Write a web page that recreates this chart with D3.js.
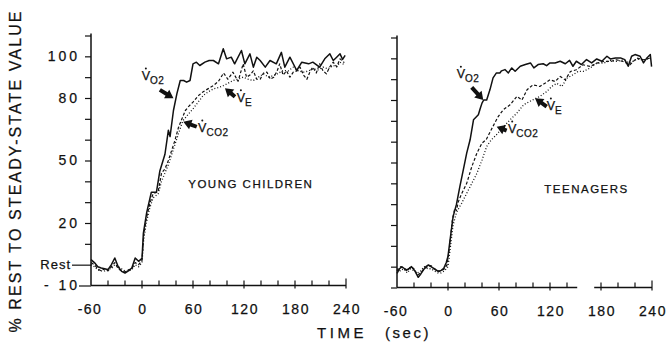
<!DOCTYPE html>
<html>
<head>
<meta charset="utf-8">
<script src="https://cdn.jsdelivr.net/npm/d3@7"></script>
<style>
  body { margin: 0; background: #fff; }
  svg text { font-family: "Liberation Sans", Arial, sans-serif; fill: #111; stroke: #111; stroke-width: 0.25px; }
</style>
</head>
<body>
<div id="chart"></div>
<script>
// [time (s), % of rest-to-steady-state value]
const childrenVO2 = [[-60,2.4],[-56,1],[-52,-1],[-48,-1.6],[-44,-2],[-40,-2.4],[-36,0],[-32,3.2],[-28,-1],[-24,-3.2],[-20,-4],[-16,-3],[-12,-1.6],[-8,3.2],[-4,1.6],[0,3],
  [1.6,15],[5.5,25],[11,34.8],[17,34.8],[21,45],[27,53],[31,64.5],[33,61.5],[37,74],[41,82],[45,88.4],[49,88.4],[52.5,87.6],[56.5,88.4],[60,96.4],
  [64,97.2],[68,95.6],[74,97.2],[79,98],[84,98],[90,96.4],[95.6,103.6],[99.5,98.8],[105,99.6],[109,96.4],[117,102.8],[121,96.4],[127,101.2],[131,94.8],
  [135,99.6],[139,98],[145,94.8],[150.6,98],[158,96.4],[164,101.9],[168,94.8],[174,99.6],[182,93.2],[188,97.2],[196,96.4],[201,97.2],[209,94.8],
  [215,98.8],[221,101.2],[225,98],[229,99.6],[233,101.2],[236,98.5],[239,100.5]];
const childrenVCO2 = [[-60,1],[-56,0],[-52,-2],[-48,-3],[-44,-2],[-40,-3],[-36,-1],[-32,1],[-28,-2],[-24,-3],[-20,-3.5],[-16,-2.5],[-12,-2],[-8,1],[-4,0],[0,2],
  [2,14],[5,22],[9,29],[13,34],[19,35],[23,44],[27,46],[31,50],[35,55],[39,60],[43,66],[47,70],[51,74],[55,76],[60,78],[66,81],[72,83],[78,84.5],
  [84,86],[90,88],[96,92],[101,89],[107,92.4],[113,88],[119,96.4],[123,90],[127,91],[131,93],[135,89],[139,89],[143,92],[147,92.4],[151,89],[155,90],
  [159,93],[162,96.4],[166,91],[170,93],[174,90],[178,92.4],[182,93],[186,94.8],[190,91],[194,89],[198,93],[201,94.8],[205,92],[209,96.4],[213,93],
  [217,91.6],[221,95],[225,97.2],[229,95],[233,98.8],[238,97]];
const childrenVE = [[-60,0],[-56,-1],[-52,-2.5],[-48,-3],[-44,-3],[-40,-2],[-36,-2],[-32,0],[-28,-1],[-24,-2],[-20,-3],[-16,-3],[-12,-2.5],[-8,0],[-4,-1],[0,1],
  [2,12],[5,20],[9,27],[13,32],[19,34],[23,40],[27,44],[31,48],[35,53],[39,58],[43,63],[48,69],[54,72],[60,74.8],[66,78],[72,81.2],[78,83],[84,84.4],
  [90,85],[96,86],[101,87],[107,88.4],[113,89],[119,90],[125,89],[131,88.4],[137,90],[143,91.6],[149,90],[155,90.8],[161,92],[166,93.2],[172,93],
  [178,94.8],[184,93],[190,92.4],[196,93],[201,94],[207,93.5],[213,94.8],[219,94],[225,95.6],[229,95],[233,97.2],[238,96]];

const teenVO2 = [[-60,-3.2],[-57,-1],[-54.5,0],[-51,-1],[-48.6,-1.6],[-46,-1],[-43,0],[-39,-2],[-35,-5.1],[-32,-3.5],[-29,-1.6],[-26,0],[-23,0.8],[-20,0],
  [-17,-0.8],[-14,-1.6],[-11,-2.4],[-8,-1.8],[-5,-0.8],[-2,2],[0,5],[2.4,12.8],[6,24],[10,30],[14,38.5],[18,46.5],[22,54.5],[26,60.9],[30,70.5],
  [35.7,72.9],[38,76],[40,78.5],[42,80],[45.5,80],[49.4,85],[53,90.6],[57,93],[61,93],[63,94],[67,94.6],[71,93],[75,95.4],[79,93.8],[85,96.2],
  [91,97],[97,97.8],[101,95.4],[106,97],[112,97.4],[116,96.5],[120,97.8],[126,97.8],[132,98.6],[138,97.4],[143,99],[147,96.2],[151,98.6],[157,97],
  [163,99.4],[169,97.8],[175,99.7],[181,98.6],[187,101],[191,99.7],[197,100.2],[203,100.2],[208,99.4],[212,96.2],[216,101],[220,101.8],[226,101],
  [230,97.8],[234,100.2],[238,101.8],[239.5,96]];
const teenVCO2 = [[-60,-2],[-56,0],[-52,-1],[-48,-2],[-44,0],[-40,-1],[-36,-4],[-32,-3],[-28,-1],[-24,0],[-20,0.5],[-16,-1],[-12,-2],[-8,-2],[-4,-1],[-1,1],
  [2,10],[5,22],[8,28],[10,27],[12,31],[16,35],[22,40],[28,48],[34,54.5],[40,59.3],[45,61],[51,65.8],[55,69],[59,72],[65,75.3],[73,77.7],[81,81.7],
  [87,80],[93,84.9],[100,87.3],[108,86.5],[114,88],[120,89.7],[126,88.9],[132,91.3],[138,89.7],[144,93.7],[151,94.5],[159,96.9],[167,96.1],
  [175,97.7],[183,98.5],[191,98.5],[198,99.3],[206,98.5],[214,96.9],[222,100.1],[230,99.3],[238,100.1]];
const teenVE = [[-60,-1],[-56,-2],[-52,-1],[-48,-3],[-44,-1],[-40,-2],[-36,-3],[-32,-2],[-28,0],[-24,-1],[-20,-1],[-16,-2],[-12,-3],[-8,-3],[-4,-2],[0,0],
  [3,10],[6,20],[10,26],[14,29],[16,30.4],[22,35.2],[28,40],[34,44.8],[40,51.2],[45.5,57.7],[51,60.9],[57,63.3],[65,67],[73,70.5],[81,73.7],
  [89,77.7],[96,79.3],[102,80.5],[108,81.7],[116,84],[122,86.5],[128,88],[134,86.5],[140,90.5],[147,92.1],[153,93.7],[159,93.7],[167,95.3],
  [175,97.7],[183,97.7],[191,99],[198,98.5],[206,99.3],[214,97.7],[222,99.6],[230,99.3],[238,100]];

const xTickLabels = [-60, 0, 60, 120, 180, 240];
const yTickValues = [100, 80, 50, 20, 0, -10];
const yTickLabels = ['100', '80', '50', '20', 'Rest', '- 10'];

const W = 668, H = 346;
const svg = d3.select('#chart').append('svg')
    .attr('width', W)
    .attr('height', H);

const styles = {
    vo2: {width: 1.5, dash: null},
    vco2: {width: 1.2, dash: '3,2'},
    ve: {width: 1.3, dash: '1,2'}
};

const panels = [
    {
        title: 'YOUNG CHILDREN', titleAt: [128, 37],
        xRange: [91, 346], yRange: [285.5, 35.5],
        series: {vo2: childrenVO2, vco2: childrenVCO2, ve: childrenVE},
        showYLabels: true, axisParts: [[-60, 240]],
        notes: [
            {sub: 'O2', at: [-0.4, 88.7], from: [21, 83.9], to: [37, 79.9]},
            {sub: 'E', at: [111.4, 78.2], from: [109.4, 80.6], to: [97.6, 84.7]},
            {sub: 'CO2', at: [66, 63.7], from: [64.4, 66.2], to: [48.6, 68.6]}
        ]
    },
    {
        title: 'TEENAGERS', titleAt: [163, 35.4],
        xRange: [397, 652], yRange: [287.5, 37.5],
        series: {vo2: teenVO2, vco2: teenVCO2, ve: teenVE},
        showYLabels: false, axisParts: [[-60, 152], [172, 240]],
        notes: [
            {sub: 'O2', at: [10.2, 90.4], from: [27.9, 86.1], to: [41.5, 80]},
            {sub: 'E', at: [116.1, 75.2], from: [116.1, 76.8], to: [102.4, 80.8]},
            {sub: 'CO2', at: [70.6, 64.2], from: [69, 65.3], to: [57.3, 67.2]}
        ]
    }
];

panels.forEach(p => drawPanel(p));

// Shared axis titles
svg.append('text')
    .attr('transform', 'translate(21,171) rotate(-90)')
    .attr('text-anchor', 'middle')
    .style('font-size', '16px')
    .style('letter-spacing', '2.1px')
    .text('% REST TO STEADY-STATE VALUE');

svg.append('text')
    .attr('x', 342).attr('y', 338)
    .attr('text-anchor', 'middle')
    .style('font-size', '15px')
    .style('letter-spacing', '3.5px')
    .text('TIME');

svg.append('text')
    .attr('x', 408).attr('y', 338)
    .attr('text-anchor', 'middle')
    .style('font-size', '15px')
    .style('letter-spacing', '2.5px')
    .text('(sec)');

function drawPanel(p) {
    const x = d3.scaleLinear().domain([-60, 240]).range(p.xRange);
    const y = d3.scaleLinear().domain([-10, 110]).range(p.yRange);
    const g = svg.append('g');

    // y axis: ticks every 10, pointing outwards; Rest and -10 ticks run longer
    const yAxis = d3.axisLeft(y)
        .tickValues(d3.range(-10, 111, 10))
        .tickSize(6)
        .tickSizeOuter(0)
        .tickFormat(d => {
            const i = yTickValues.indexOf(d);
            return (p.showYLabels && i >= 0) ? yTickLabels[i] : '';
        });
    const yG = g.append('g')
        .attr('transform', `translate(${p.xRange[0]},0)`)
        .call(yAxis);
    yG.select('.domain').attr('stroke', '#111').attr('stroke-width', 1.5)
        .attr('d', `M0,${y(-10)}V${y(110) - 2}`);
    yG.selectAll('.tick line')
        .attr('x2', d => p.showYLabels && d === 0 ? -19 : (p.showYLabels && d === -10 ? -12 : -6))
        .attr('stroke', '#111').attr('stroke-width', 1.2);
    yG.selectAll('.tick text')
        .attr('x', d => d === 0 ? -20 : -11)
        .style('font-family', '"Liberation Sans", Arial, sans-serif')
        .style('font-size', d => d === 0 ? '13px' : '14px')
        .style('letter-spacing', d => d === 0 ? '1px' : '3px')
        .attr('fill', '#111');

    // x axis: minor ticks every 20 s pointing up, labelled ones crossing
    const base = y(-10);
    const xG = g.append('g').attr('transform', `translate(0,${base})`);
    p.axisParts.forEach(([a, b]) => {
        xG.append('line')
            .attr('x1', x(a)).attr('x2', x(b))
            .attr('stroke', '#111').attr('stroke-width', 1.5);
    });
    const minor = d3.range(-40, 241, 20).filter(t => p.axisParts.some(([a, b]) => t >= a && t <= b));
    xG.selectAll('.minor')
        .data(minor)
        .join('line')
        .attr('class', 'minor')
        .attr('x1', d => x(d)).attr('x2', d => x(d))
        .attr('y1', d => xTickLabels.includes(d) ? 3 : 0)
        .attr('y2', d => d === 240 ? -7 : -5)
        .attr('stroke', '#111').attr('stroke-width', 1.2);
    xG.selectAll('.xlabel')
        .data(xTickLabels)
        .join('text')
        .attr('class', 'xlabel')
        .attr('x', d => x(d) - (d < 0 ? 2 : 0) + 1)
        .attr('y', 28)
        .attr('text-anchor', 'middle')
        .style('font-size', '14px')
        .style('letter-spacing', '1.5px')
        .text(d => d);

    // response curves
    const line = d3.line().x(d => x(d[0])).y(d => y(d[1]));
    ['ve', 'vco2', 'vo2'].forEach(k => {
        g.append('path')
            .datum(p.series[k])
            .attr('d', line)
            .attr('fill', 'none')
            .attr('stroke', '#111')
            .attr('stroke-width', styles[k].width)
            .attr('stroke-dasharray', styles[k].dash)
            .attr('stroke-linejoin', 'round');
    });

    // annotations
    p.notes.forEach(n => {
        const tx = x(n.at[0]), ty = y(n.at[1]);
        const t = g.append('text').attr('x', tx).attr('y', ty).style('font-size', '12.5px');
        t.append('tspan').text('V');
        t.append('tspan').attr('dy', 4).style('font-size', '10px').style('letter-spacing', '0.5px').text(n.sub);
        g.append('circle').attr('cx', tx + 4.2).attr('cy', ty - 11.5).attr('r', 1).attr('fill', '#111');
        drawArrow(g, x(n.from[0]), y(n.from[1]), x(n.to[0]), y(n.to[1]));
    });

    g.append('text')
        .attr('x', x(p.titleAt[0])).attr('y', y(p.titleAt[1]))
        .attr('text-anchor', 'middle')
        .style('font-size', '11.5px')
        .style('letter-spacing', '1.5px')
        .text(p.title);
}

function drawArrow(g, x1, y1, x2, y2) {
    const L = Math.hypot(x2 - x1, y2 - y1);
    const ang = Math.atan2(y2 - y1, x2 - x1) * 180 / Math.PI;
    const head = 8, hw = 5, sw = 2;
    const pts = [[0, -sw], [L - head, -sw], [L - head, -hw], [L, 0], [L - head, hw], [L - head, sw], [0, sw]];
    g.append('path')
        .attr('d', 'M' + pts.map(q => q.join(',')).join('L') + 'Z')
        .attr('transform', `translate(${x1},${y1}) rotate(${ang})`)
        .attr('fill', '#111');
}
</script>
</body>
</html>
